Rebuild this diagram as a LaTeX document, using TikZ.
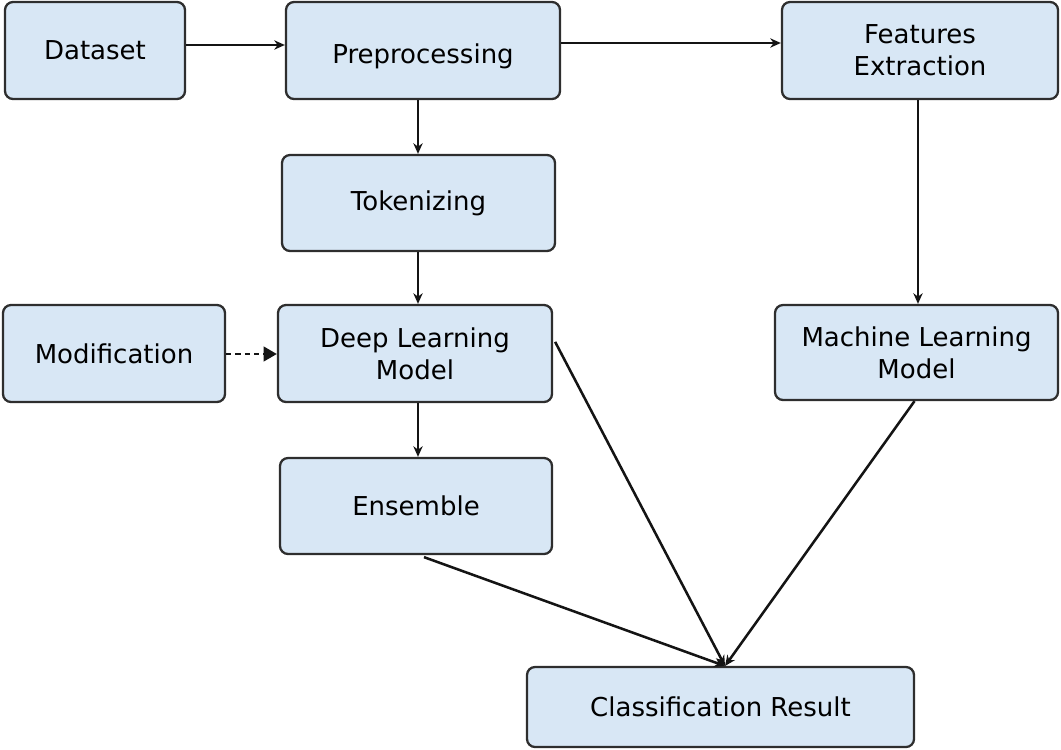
\documentclass[tikz,border=0pt]{standalone}
\usepackage{fontspec}
\setmainfont{DejaVu Sans}
\usetikzlibrary{arrows.meta}
\definecolor{boxfill}{HTML}{D8E7F5}
\definecolor{boxdraw}{HTML}{2E2E2E}
\tikzset{
  blk/.style={draw=boxdraw, fill=boxfill, line width=1.7pt, rounded corners=6pt, align=center,
    font=\fontsize{19.5}{24}\selectfont, inner sep=0pt},
  conn/.style={line width=1.9pt, draw=black!92, -{Stealth[length=8pt,width=7pt]}},
  dconn/.style={line width=1.9pt, draw=black!92, dash pattern=on 4pt off 3pt, -{Triangle[length=10pt,width=11pt]}},
}
\begin{document}
\begin{tikzpicture}[x=0.75pt,y=-0.75pt]
\useasboundingbox (0,0) rectangle (1061,750);
\node[blk, minimum width=180*0.75pt, minimum height=97*0.75pt] (ds) at (95,50.5) {Dataset};
\node[blk, minimum width=274*0.75pt, minimum height=97*0.75pt] (pp) at (423,50.5) {};
\node[font=\fontsize{19.5}{24}\selectfont, inner sep=0pt] (ppt) at (423,56) {Preprocessing};
\node[blk, minimum width=276*0.75pt, minimum height=97*0.75pt] (fe) at (920,50.5) {Features\\Extraction};
\node[blk, minimum width=273*0.75pt, minimum height=96*0.75pt] (tk) at (418.5,203) {Tokenizing};
\node[blk, minimum width=222*0.75pt, minimum height=97*0.75pt] (md) at (114,353.5) {Modification};
\node[blk, minimum width=274*0.75pt, minimum height=97*0.75pt] (dl) at (415,353.5) {Deep Learning\\Model};
\node[blk, minimum width=283*0.75pt, minimum height=95*0.75pt] (ml) at (916.5,352.5) {Machine Learning\\Model};
\node[blk, minimum width=272*0.75pt, minimum height=96*0.75pt] (en) at (416,506) {Ensemble};
\node[blk, minimum width=387*0.75pt, minimum height=80*0.75pt] (cr) at (720.5,707) {Classification Result};

\coordinate (crT) at (725,666);
\draw[conn] (ds.east |- 0,45) -- (pp.west |- 0,45);
\draw[conn] (pp.east |- 0,43) -- (fe.west |- 0,43);
\draw[conn] (pp.south -| 418,0) -- (tk.north -| 418,0);
\draw[conn] (fe.south -| 918,0) -- (ml.north -| 918,0);
\draw[conn] (tk.south -| 418,0) -- (dl.north -| 418,0);
\draw[conn] (dl.south -| 418,0) -- (en.north -| 418,0);
\draw[dconn] (md.east |- 0,354) -- (dl.west |- 0,354);
\draw[conn] (dl.north east) ++(2,38) -- (crT);
\draw[conn] (ml.south) ++(-2,0) -- (crT);
\draw[conn] (en.south) ++(8,2) -- (crT);
\end{tikzpicture}
\end{document}
